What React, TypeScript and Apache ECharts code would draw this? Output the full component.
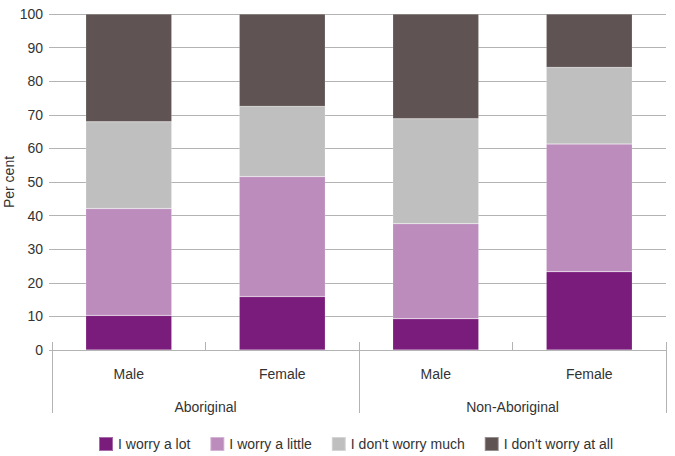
import React, { useEffect, useRef } from "react";
import * as echarts from "echarts";

const categories = ["Male", "Female", "Male", "Female"];
const groups = ["Aboriginal", "Non-Aboriginal"];
const yTicks = [0, 10, 20, 30, 40, 50, 60, 70, 80, 90, 100];
const yAxisTitle = "Per cent";
const seriesNames = ["I worry a lot", "I worry a little", "I don't worry much", "I don't worry at all"];
const worryALot = [10.3, 15.9, 9.3, 23.3];
const worryALittle = [31.8, 35.7, 28.3, 38.0];
const dontWorryMuch = [25.8, 20.9, 31.2, 22.8];
const dontWorryAtAll = [32.1, 27.5, 31.2, 15.9];
const colors = ["#7a1c7c", "#bc8cbd", "#bfbfbf", "#5f5453"];

export default function App() {
  const ref = useRef<HTMLDivElement>(null);
  useEffect(() => {
    if (!ref.current) return;
    const chart = echarts.init(ref.current, undefined, { renderer: "svg" });
    const font = "'Liberation Sans', Arial, sans-serif";
    const values = [worryALot, worryALittle, dontWorryMuch, dontWorryAtAll];
    chart.setOption({
      animation: false,
      textStyle: { fontFamily: font },
      color: colors,
      grid: { left: 52, right: 9, top: 14, bottom: 106, containLabel: false, outerBoundsMode: "none" },
      graphic: [
        {
          type: "text",
          x: 9,
          y: 182,
          rotation: Math.PI / 2,
          style: {
            text: yAxisTitle,
            fontSize: 14,
            fontFamily: font,
            fill: "#333",
            align: "center",
            verticalAlign: "middle",
          },
        },
      ],
      legend: {
        top: 431,
        left: 93,
        icon: "rect",
        itemWidth: 14,
        itemHeight: 14,
        itemGap: 19,
        textStyle: { fontSize: 14, color: "#333", fontFamily: font },
        data: seriesNames,
      },
      xAxis: [
        {
          type: "category",
          data: categories,
          position: "bottom",
          axisLine: { show: true, lineStyle: { color: "#b3b3b3", width: 1 } },
          axisTick: { show: true, inside: true, length: 8, lineStyle: { color: "#b3b3b3" } },
          axisLabel: { fontSize: 14, color: "#333", margin: 17, fontFamily: font },
        },
        {
          type: "category",
          data: groups,
          position: "bottom",
          axisLine: { show: false },
          axisTick: { show: true, length: 63, lineStyle: { color: "#b3b3b3" } },
          axisLabel: { fontSize: 14, color: "#333", margin: 50, fontFamily: font },
        },
      ],
      yAxis: {
        type: "value",
        min: 0,
        max: 100,
        interval: 10,
        axisLine: { show: false },
        axisTick: { show: true, length: 3, lineStyle: { color: "#b3b3b3" } },
        axisLabel: {
          fontSize: 14,
          color: "#333",
          margin: 9,
          fontFamily: font,
          formatter: (v: number) => (yTicks.includes(v) ? String(v) : ""),
        },
        splitLine: { lineStyle: { color: "#b3b3b3", width: 1 } },
      },
      series: seriesNames.map((name, i) => ({
        name,
        type: "bar",
        stack: "total",
        xAxisIndex: 0,
        barWidth: 86,
        data: values[i],
        itemStyle: { color: colors[i], borderColor: "rgba(255,255,255,0.35)", borderWidth: 0.5 },
      })),
    });
    return () => chart.dispose();
  }, []);
  return <div ref={ref} style={{ width: 675, height: 456, position: "absolute", left: 0, top: 0 }} />;
}
